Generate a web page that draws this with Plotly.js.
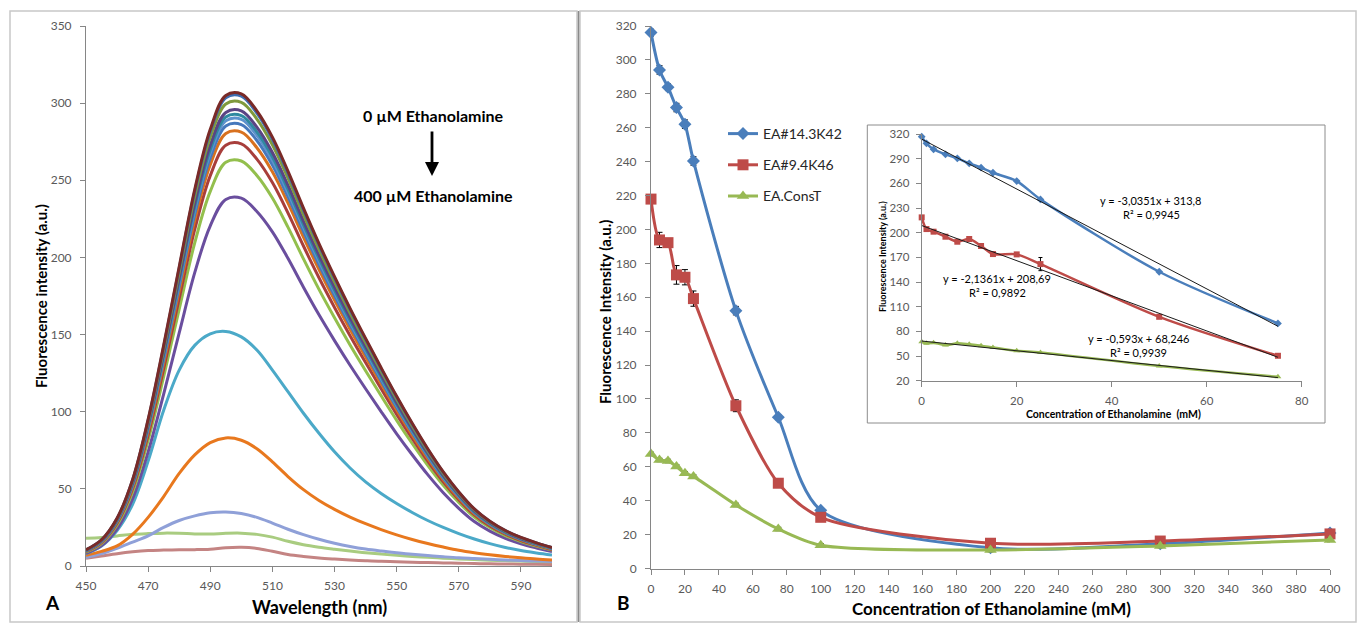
<!DOCTYPE html>
<html><head><meta charset="utf-8">
<script src="https://cdn.plot.ly/plotly-3.0.1.min.js"></script>
<style>html,body{margin:0;padding:0;background:#fff}#chart{width:1364px;height:629px}</style>
</head><body><div id="chart"></div>
<script>
// ---------- Panel A : emission spectra ----------
const wavelengths = [450,455,460,465,470,475,480,485,490,495,500,505,510,515,520,525,530,535,540,545,550,555,560,565,570,575,580,585,590,595,600];
const specPink     = [5,6.5,8,9.2,10,10.3,10.5,10.6,10.9,11.8,12.1,11.4,9.5,7.5,6.2,5.2,4.5,3.9,3.4,3.0,2.8,2.5,2.2,2.0,1.8,1.6,1.4,1.3,1.2,1.1,1.0];
const specLtGreen  = [18,18.5,19.5,20.5,21,21.3,21.2,20.8,20.7,21.2,21.3,20.5,18.7,16,13.8,12.2,10.9,9.7,8.6,7.7,6.9,6.2,5.6,5.1,4.6,4.2,3.8,3.5,3.2,2.9,2.7];
const specLavender = [5.5,8,11.5,15.5,19.5,25,29.5,32.5,34.5,35,34,31.5,27.8,23.8,20.3,17.3,14.8,12.7,11,9.7,8.6,7.6,6.8,6.0,5.3,4.8,4.3,3.9,3.5,3.2,2.9];
const specOrange   = [7,9.5,13,20.5,31.5,45,60,72,80,83,81.5,76,67.5,58,49.5,42.5,36.7,31.7,27.4,23.6,20.2,17.2,14.6,12.3,10.2,8.6,7.3,6.2,5.3,4.5,3.9];
const specAqua     = [8,13,23,40,68,101,127,143,150.5,152,148.5,140,127,113,99,86,74,63.5,54.5,47,40.5,34.7,29.5,25,21,17.5,14.5,12,10,8.5,7.2];
const specPurple   = [8.2,13.2,24.1,43.6,74,111.4,151.1,190.1,220.5,237.6,238.4,229.8,216.6,199.4,180.7,162.8,146.1,130.1,114.9,100.1,85.7,72.1,59.2,47.5,37.4,28.8,22.6,17.9,14.4,11.7,9.3];
const specGreen    = [9,14.6,26.6,48,81.5,122.7,166.5,209.4,242.8,261.7,262.5,253.1,238.5,219.6,199.1,179.3,160.9,143.3,126.6,110.3,94.4,79.4,65.2,52.3,41.2,31.7,24.9,19.7,15.9,12.9,10.3];
const specRed      = [9.4,15.2,27.7,50.1,84.9,127.8,173.4,218.1,253,272.7,273.6,263.7,248.5,228.9,207.4,186.8,167.6,149.3,131.9,114.9,98.3,82.7,67.9,54.5,42.9,33.1,25.9,20.6,16.5,13.4,10.7];
const specOrange2  = [9.6,15.6,28.5,51.5,87.3,131.4,178.3,224.2,260.1,280.3,281.2,271.1,255.5,235.3,213.2,192.1,172.3,153.5,135.6,118.1,101.1,85,69.8,56.1,44.1,34,26.7,21.1,17,13.8,11];
const specBlue     = [9.8,15.9,29,52.4,88.8,133.7,181.4,228.1,264.6,285.2,286.1,275.8,259.9,239.4,216.9,195.4,175.3,156.1,137.9,120.1,102.9,86.5,71.1,57,44.9,34.6,27.1,21.5,17.3,14,11.2];
const specLtBlue   = [9.9,16.1,29.3,53,89.9,135.3,183.5,230.8,267.7,288.5,289.5,279.1,263,242.2,219.5,197.7,177.4,158,139.5,121.6,104.1,87.5,71.9,57.7,45.4,35,27.4,21.8,17.5,14.2,11.4];
const specTeal     = [10,16.2,29.6,53.4,90.6,136.4,185.1,232.8,270,291,291.9,281.4,265.2,244.2,221.3,199.4,178.9,159.3,140.7,122.6,104.9,88.2,72.5,58.2,45.8,35.3,27.7,21.9,17.6,14.3,11.4];
const specDkPurple = [10.1,16.4,29.9,54,91.6,137.9,187,235.2,272.8,294,295,284.4,268,246.8,223.6,201.5,180.8,161,142.2,123.9,106,89.2,73.3,58.8,46.3,35.7,28,22.2,17.8,14.5,11.6];
const specOlive    = [10.3,16.7,30.4,55,93.3,140.4,190.5,239.6,277.9,299.5,300.5,289.7,273,251.4,227.8,205.2,184.1,164,144.8,126.2,108,90.8,74.6,59.9,47.1,36.3,28.5,22.6,18.2,14.7,11.8];
const specDkBlue   = [10.4,16.9,30.8,55.7,94.5,142.3,193,242.8,281.6,303.5,304.5,293.5,276.6,254.7,230.8,208,186.6,166.2,146.8,127.9,109.5,92,75.6,60.7,47.8,36.8,28.9,22.9,18.4,14.9,11.9];
const specMaroon   = [10.5,17,31,56,95,143,194,244,283,305,306,295,278,256,232,209,187.5,167,147.5,128.5,110,92.5,76,61,48,37,29,23,18.5,15,12];

const spectraA = [specPink,specLtGreen,specLavender,specOrange,specAqua,specPurple,specGreen,specRed,specOrange2,specBlue,specLtBlue,specTeal,specDkPurple,specOlive,specDkBlue,specMaroon];
const spectraColors = ['#C48483','#A9CC80','#8FA0D8','#E8781E','#4BA9C8','#6A4E9E','#93BF4D','#A83E3B','#D8711F','#4678BC','#5D92CC','#2F89A0','#5A4484','#7F9A3D','#3E6EB0','#7A2A27'];

// ---------- Panel B : main quenching curves ----------
const concMain  = [0,5,10,15,20,25,50,75,100,200,300,400];
const blueMain  = [316.1,294.1,283.9,271.9,262.1,240.4,152.1,89.2,34.3,12.2,14.6,21.0];
const blueErr   = [2,2.5,2,2.5,2.5,2.5,2.5,1.5,1,1,1,1];
const redMain   = [217.9,193.8,192.2,173.2,171.8,159.2,96.0,50.3,30.2,14.9,16.2,20.4];
const redErr    = [1.5,4.5,2,5.5,4.5,4.5,3.5,1.5,1.5,1,1,1];
const greenMain = [67.6,64.0,63.4,60.1,56.2,54.2,37.5,23.3,13.7,10.9,13.3,16.8];
const greenErr  = [1,1,1,1,1,1,1,1,1,1,1,1];
const seriesNames = ['EA#14.3K42','EA#9.4K46','EA.ConsT'];

// ---------- Inset : linear range ----------
const concInset  = [0,1,2.5,5,7.5,10,12.5,15,20,25,50,75];
const blueInset  = [316.7,308.6,301.4,295.3,290.4,284.3,279.0,272.9,262.8,240.5,152.5,89.7];
const redInset   = [218.6,204.4,201.2,195.1,189.0,192.3,183.8,174.0,173.6,161.8,97.7,50.3];
const redInsetErr= [1,1,1,2,1,1,1,2,1,8,1,1];
const greenInset = [67.3,65.4,66.2,63.3,65.4,64.2,62.6,60.5,56.4,54.4,37.8,24.7];
const trendSlopes     = [-3.0351,-2.1361,-0.593];
const trendIntercepts = [313.8,208.69,68.246];
const trendRange      = [0,75];
const trendEq  = ['y = -3,0351x + 313,8','y = -2,1361x + 208,69','y = -0,593x + 68,246'];
const trendR2  = ['R² = 0,9945','R² = 0,9892','R² = 0,9939'];

// ---------- helpers ----------
const W = 1364, H = 629;
const px = x => x / W;
const py = y => 1 - y / H;
const FONT = 'Lato, "Open Sans", sans-serif';
const bColors = ['#4A7EBB','#BE4B48','#98B954'];
const bMarkers = ['diamond','square','triangle-up'];

const traces = [];
spectraA.forEach((s, i) => {
  traces.push({x: wavelengths, y: s, xaxis: 'x', yaxis: 'y', mode: 'lines',
    line: {color: spectraColors[i], width: 3, shape: 'spline', smoothing: 1},
    showlegend: false, hoverinfo: 'skip'});
});

const mainY = [blueMain, redMain, greenMain];
const mainErr = [blueErr, redErr, greenErr];
const mSizes = [10, 11, 11];
mainY.forEach((ys, i) => {
  traces.push({x: concMain, y: ys, xaxis: 'x2', yaxis: 'y2', mode: 'lines+markers',
    name: seriesNames[i], legendgroup: 'g' + i,
    line: {color: bColors[i], width: 3, shape: 'spline', smoothing: 0.8},
    marker: {symbol: bMarkers[i], size: mSizes[i], color: bColors[i]},
    error_y: {type: 'data', array: mainErr[i], visible: true, color: '#000', thickness: 1, width: 3},
    cliponaxis: false});
});

const insetY = [blueInset, redInset, greenInset];
insetY.forEach((ys, i) => {
  traces.push({x: concInset, y: ys, xaxis: 'x3', yaxis: 'y3', mode: 'lines+markers',
    line: {color: bColors[i], width: 2.5, shape: 'spline', smoothing: 0.8},
    marker: {symbol: bMarkers[i], size: 6, color: bColors[i]},
    error_y: i === 1 ? {type: 'data', array: redInsetErr, visible: true, color: '#000', thickness: 1, width: 2} : {visible: false},
    showlegend: false, cliponaxis: false, hoverinfo: 'skip'});
});
trendSlopes.forEach((m, i) => {
  traces.push({x: trendRange, y: trendRange.map(x => m * x + trendIntercepts[i]), xaxis: 'x3', yaxis: 'y3',
    mode: 'lines', line: {color: '#1a1a1a', width: 1}, showlegend: false, hoverinfo: 'skip'});
});

const axBase = {showline: true, linecolor: '#868686', linewidth: 1, ticks: 'outside', ticklen: 5,
  tickcolor: '#868686', showgrid: false, zeroline: false,
  tickfont: {family: FONT, size: 12, color: '#595959'}, fixedrange: true};

function ann(text, x, y, size, extra) {
  return Object.assign({text: text, xref: 'paper', yref: 'paper', x: px(x), y: py(y), xanchor: 'center', yanchor: 'middle',
    showarrow: false, font: {family: FONT, size: size, color: '#000'}}, extra || {});
}

const layout = {
  width: W, height: H, margin: {l: 0, r: 0, t: 0, b: 0},
  paper_bgcolor: '#fff', plot_bgcolor: 'rgba(0,0,0,0)', font: {family: FONT},
  xaxis: Object.assign({}, axBase, {domain: [px(86), px(552)], range: [450, 600], tickvals: [450,470,490,510,530,550,570,590], anchor: 'y', ticklabelstandoff: 4}),
  yaxis: Object.assign({}, axBase, {domain: [py(566), py(26)], range: [0, 350], dtick: 50, anchor: 'x', ticklabelstandoff: 6}),
  xaxis2: Object.assign({}, axBase, {domain: [px(651), px(1330)], range: [0, 400], dtick: 20, anchor: 'y2', ticklabelstandoff: 4}),
  yaxis2: Object.assign({}, axBase, {domain: [py(568.5), py(26)], range: [0, 320], dtick: 20, anchor: 'x2', ticklabelstandoff: 6}),
  xaxis3: Object.assign({}, axBase, {domain: [px(921.7), px(1301.7)], range: [0, 80], dtick: 20, anchor: 'y3', ticklabelstandoff: 4,
    tickfont: {family: FONT, size: 11.5, color: '#595959'}}),
  yaxis3: Object.assign({}, axBase, {domain: [py(380.7), py(134)], range: [20, 320], tick0: 20, dtick: 30, anchor: 'x3', ticklabelstandoff: 4,
    tickfont: {family: FONT, size: 11.5, color: '#595959'}}),
  showlegend: true,
  legend: {x: px(723), xanchor: 'left', y: py(118), yanchor: 'top', bgcolor: 'rgba(0,0,0,0)',
    font: {family: FONT, size: 14, color: '#262626'}, tracegroupgap: 10, traceorder: 'grouped'},
  shapes: [
    {type: 'rect', xref: 'paper', yref: 'paper', x0: px(10), x1: px(577), y0: py(622), y1: py(11), line: {color: '#C8C8C8', width: 1.5}, layer: 'below'},
    {type: 'rect', xref: 'paper', yref: 'paper', x0: px(580), x1: px(1356), y0: py(622), y1: py(11), line: {color: '#C8C8C8', width: 1.5}, layer: 'below'},
    {type: 'line', xref: 'paper', yref: 'paper', x0: px(578.5), x1: px(578.5), y0: py(622), y1: py(11), line: {color: '#8A8A8A', width: 1.5}},
    {type: 'rect', xref: 'paper', yref: 'paper', x0: px(867.3), x1: px(1325), y0: py(423), y1: py(125), line: {color: '#8C8C8C', width: 1}, fillcolor: '#fff', layer: 'below'}
  ],
  annotations: [
    ann('<b>Fluorescence intensity (a.u.)</b>', 41, 296, 15, {textangle: -90}),
    ann('<b>Wavelength (nm)</b>', 319.5, 607, 18),
    ann('<b>A</b>', 52, 602, 19),
    ann('<b>0 µM Ethanolamine</b>', 433, 115, 16),
    {text: '', xref: 'paper', yref: 'paper', x: px(432), y: py(176), ax: 0, ay: -46, showarrow: true, arrowhead: 2, arrowsize: 1, arrowwidth: 2.8, arrowcolor: '#000'},
    ann('<b>400 µM Ethanolamine</b>', 433, 195, 16),
    ann('<b>Fluorescence Intensity (a.u.)</b>', 605, 312, 15, {textangle: -90}),
    ann('<b>Concentration of Ethanolamine (mM)</b>', 991, 608, 17),
    ann('<b>B</b>', 623, 602, 19),
    ann('<b>Fluorescence Intensity (a.u.)</b>', 882, 257, 9, {textangle: -90}),
    ann('<b>Concentration of Ethanolamine  (mM)</b>', 1113, 414, 10.5),
    ann(trendEq[0], 1150, 200, 11),
    ann(trendR2[0], 1151, 215, 11),
    ann(trendEq[1], 997, 278, 11),
    ann(trendR2[1], 997, 292, 11),
    ann(trendEq[2], 1138, 338, 11),
    ann(trendR2[2], 1138, 352, 11)
  ]
};

Plotly.newPlot('chart', traces, layout, {staticPlot: true, displayModeBar: false});
</script>
</body></html>
